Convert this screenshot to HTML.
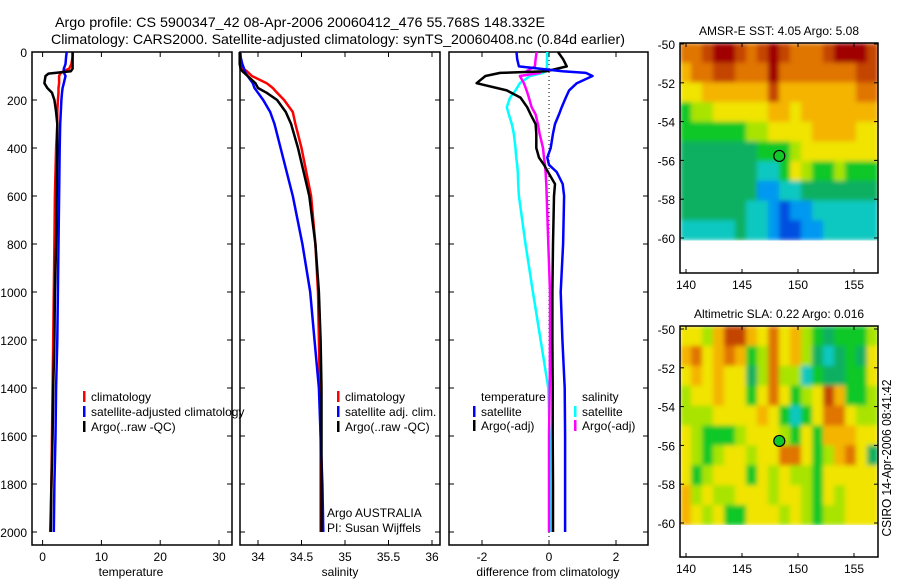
<!DOCTYPE html>
<html><head><meta charset="utf-8"><style>
html,body{margin:0;padding:0;background:#fff;}
svg{display:block;font-family:"Liberation Sans",sans-serif;}
</style></head><body>
<svg id="fig" width="900" height="580" viewBox="0 0 900 580" xmlns="http://www.w3.org/2000/svg">
<defs>
<filter id="smooth" x="0" y="0" width="1" height="1"><feGaussianBlur stdDeviation="2.5" edgeMode="duplicate"/></filter>
<clipPath id="clipSst"><rect x="680" y="43" width="198" height="198"/></clipPath>
<clipPath id="clipSla"><rect x="680" y="326" width="198" height="199"/></clipPath>
</defs>
<text x="55" y="27" font-size="14" textLength="490" lengthAdjust="spacingAndGlyphs">Argo profile: CS 5900347_42 08-Apr-2006 20060412_476 55.768S 148.332E</text>
<text x="51" y="44" font-size="14" textLength="574" lengthAdjust="spacingAndGlyphs">Climatology: CARS2000. Satellite-adjusted climatology: synTS_20060408.nc (0.84d earlier)</text>
<g id="g"></g>
<text transform="translate(891,458) rotate(-90)" text-anchor="middle" font-size="13" textLength="157" lengthAdjust="spacingAndGlyphs">CSIRO 14-Apr-2006 08:41:42</text>
</svg>
<script>
// ---- data ----
const tDepths=[0,20,50,70,80,90,100,130,150,170,200,250,300,400,600,800,1000,1200,1400,1600,1800,2000];
const tempClim=[5.1,5.1,4.9,4.5,3.5,3.0,2.8,2.8,2.7,2.7,2.6,2.5,2.5,2.3,2.1,2.0,1.9,1.8,1.7,1.6,1.5,1.3];
const tempSatClim=[4.1,4.0,3.9,3.6,3.6,3.7,3.9,3.6,3.4,3.3,3.2,3.1,3.0,2.9,2.8,2.7,2.6,2.5,2.3,2.2,2.0,1.9];
const tempArgo=[5.1,5.1,5.1,5.1,4.8,1.0,0.5,0.3,0.8,1.6,2.0,2.3,2.5,2.5,2.4,2.3,2.1,2.0,1.8,1.7,1.5,1.4];
const salClim=[33.80,33.80,33.81,33.83,33.87,33.90,33.93,34.10,34.17,34.22,34.30,34.40,34.43,34.50,34.61,34.66,34.69,34.70,34.71,34.72,34.72,34.72];
const salSatClim=[33.79,33.80,33.82,33.84,33.85,33.86,33.88,33.94,33.96,34.00,34.06,34.14,34.19,34.26,34.40,34.51,34.60,34.65,34.70,34.72,34.74,34.75];
const salArgo=[33.79,33.79,33.79,33.80,33.82,33.85,33.88,33.97,34.00,34.10,34.22,34.32,34.38,34.46,34.59,34.66,34.70,34.72,34.73,34.73,34.73,34.73];
const dDepths=[0,30,60,80,87,100,130,160,190,230,260,300,340,400,440,470,500,550,600,800,1000,1200,1400,1600,1800,2000];
const diffTempSat=[-0.97,-0.95,-0.9,0.4,1.1,1.3,0.83,0.6,0.5,0.38,0.3,0.18,0.12,0.05,-0.05,0.0,0.23,0.41,0.45,0.42,0.35,0.4,0.47,0.48,0.48,0.48];
const diffTempArgo=[0.27,0.42,0.53,-0.07,-1.46,-1.9,-2.16,-1.26,-0.85,-0.65,-0.55,-0.4,-0.38,-0.38,-0.3,-0.15,-0.03,0.18,0.15,0.12,0.1,0.1,0.11,0.11,0.12,0.12];
const diffSalSat=[-0.05,-0.06,-0.06,-0.1,-0.18,-0.57,-0.87,-1.0,-1.16,-1.26,-1.2,-1.11,-1.05,-1.0,-0.98,-0.95,-0.93,-0.92,-0.9,-0.7,-0.48,-0.25,-0.02,0.02,0.04,0.05];
const diffSalArgo=[-0.37,-0.4,-0.42,-0.67,-0.27,-0.87,-0.75,-0.67,-0.6,-0.52,-0.4,-0.33,-0.28,-0.18,-0.15,-0.12,-0.1,-0.08,-0.07,-0.02,0.03,0.03,0.02,0.0,0.0,0.0];
const depthTicks=[0,200,400,600,800,1000,1200,1400,1600,1800,2000];
const tempTicks=[0,10,20,30];
const salTicks=[34,34.5,35,35.5,36];
const salTickLabels=["34","34.5","35","35.5","36"];
const diffTicks=[-2,0,2];
const latTicks=[-50,-52,-54,-56,-58,-60];
const lonTicks=[140,145,150,155];
const argoLon=148.33, argoLat=-55.77;
const sstGrid=[
[8,8,9,10,10,9,8,9,10,9,8,8,8,9,10,10,10,9],
[7,8,8,9,9,8,8,8,10,8,8,8,8,8,8,8,9,9],
[6,6,7,7,7,7,7,7,9,7,7,7,7,7,7,7,8,8],
[4,5,5,6,6,6,6,6,7,7,6,7,7,7,7,7,7,7],
[4,4,4,4,4,4,5,5,6,6,6,6,7,7,7,7,6,6],
[3,3,3,3,3,3,3,4,4,4,5,6,6,6,6,6,6,6],
[3,3,3,3,3,3,3,2,2,4,6,5,4,4,5,4,4,4],
[3,3,3,3,3,3,3,1,1,2,2,3,3,3,3,3,3,3],
[3,3,3,3,3,3,2,2,1,0,1,1,2,2,2,2,2,2],
[2,2,2,2,2,3,2,2,1,0,0,1,1,2,2,2,2,2]];
const slaGrid=[
[6,6,5,7,9,9,7,6,8,6,7,5,4,3,4,4,4,5],
[7,8,6,7,8,7,4,5,8,6,7,5,3,2,3,4,3,6],
[6,7,6,7,6,6,3,5,8,5,5,2,4,3,3,4,4,6],
[5,6,6,7,6,6,4,6,8,6,4,5,6,9,7,4,4,5],
[5,5,5,6,6,6,6,7,6,4,2,4,6,8,8,6,5,5],
[6,5,4,4,4,5,6,6,6,5,4,6,4,7,7,7,6,6],
[6,5,4,5,6,6,5,6,6,8,8,6,4,5,7,8,6,3],
[6,4,5,6,6,6,4,6,5,6,5,5,4,6,6,6,6,6],
[7,5,6,5,5,6,6,6,5,6,6,5,4,6,5,6,6,6],
[7,6,5,6,4,4,6,6,6,5,6,5,4,5,5,6,6,6]];
const cmap=["#0050e0","#0098f0","#10c8c0","#08b060","#10c828","#a8e400","#f0e400","#f4b400","#e07400","#c44400","#a00000"];
// ---- drawing ----
const NS="http://www.w3.org/2000/svg";
const G=document.getElementById('g');
function mk(tag,attrs,parent){const e=document.createElementNS(NS,tag);for(const k in attrs)e.setAttribute(k,attrs[k]);(parent||G).appendChild(e);return e;}
function txt(x,y,s,size,anchor,parent){const e=mk('text',{x:x,y:y,'font-size':size,'text-anchor':anchor||'start'},parent);e.textContent=s;return e;}
const Y0=52, PY=0.24, YB=545;
const yD=d=>Y0+d*PY;
const panels=[
 {name:'temperature',x0:32,x1:232,f:v=>42.6+v*5.88,ticks:tempTicks,labels:tempTicks.map(String)},
 {name:'salinity',x0:240,x1:440,f:v=>258+(v-34)*87,ticks:salTicks,labels:salTickLabels},
 {name:'difference',x0:449,x1:648,f:v=>549+v*33.5,ticks:diffTicks,labels:diffTicks.map(String)}];
panels.forEach((p,i)=>{
 const g=mk('g',{});
 
 
 const r=mk('rect',{x:p.x0,y:Y0,width:p.x1-p.x0,height:YB-Y0,fill:'none',stroke:'#000','stroke-width':1.5},g);
 
 
 depthTicks.forEach(d=>{
  mk('line',{x1:p.x0,x2:p.x0+5,y1:yD(d),y2:yD(d),stroke:'#000'},g);
  mk('line',{x1:p.x1-5,x2:p.x1,y1:yD(d),y2:yD(d),stroke:'#000'},g);
  if(i==0){const t=txt(27,yD(d)+5,String(d),12,'end',g);
   
   }
 });
 p.ticks.forEach((v,k)=>{
  const x=p.f(v);
  mk('line',{x1:x,x2:x,y1:Y0,y2:Y0+5,stroke:'#000'},g);
  mk('line',{x1:x,x2:x,y1:YB-5,y2:YB,stroke:'#000'},g);
  const t=txt(x,561,p.labels[k],12,'middle',g);
  
  
 });
});
function line(depths,vals,f,color,name){
 const pts=depths.map((d,i)=>f(vals[i]).toFixed(1)+','+yD(d).toFixed(1)).join(' ');
 const e=mk('polyline',{points:pts,fill:'none',stroke:color,'stroke-width':2.5,'stroke-linejoin':'round'});
 
 
}
const P=panels;
const z=mk('line',{x1:P[2].f(0),x2:P[2].f(0),y1:Y0,y2:YB,stroke:'#000','stroke-dasharray':'1,3'});


line(tDepths,tempClim,P[0].f,'#ff0000','temp-climatology-line');
line(tDepths,tempSatClim,P[0].f,'#0000ff','temp-satellite-line');
line(tDepths,tempArgo,P[0].f,'#000','temp-argo-line');
line(tDepths,salClim,P[1].f,'#ff0000','sal-climatology-line');
line(tDepths,salSatClim,P[1].f,'#0000ff','sal-satellite-line');
line(tDepths,salArgo,P[1].f,'#000','sal-argo-line');
line(dDepths,diffSalSat,P[2].f,'#00ffff','diff-sal-satellite-line');
line(dDepths,diffSalArgo,P[2].f,'#ff00ff','diff-sal-argo-line');
line(dDepths,diffTempArgo,P[2].f,'#000','diff-temp-argo-line');
line(dDepths,diffTempSat,P[2].f,'#0000ff','diff-temp-satellite-line');
[['temperature',131,'x-axis-title-temperature'],['salinity',340,'x-axis-title-salinity'],['difference from climatology',548,'x-axis-title-difference']].forEach(a=>{
 const t=txt(a[1],576,a[0],12,'middle');
 
 
});
function legend(x,y,color,label,name){
 const g=mk('g',{});
 
 
 if(color) mk('rect',{x:x,y:y-10,width:2.5,height:11,fill:color},g);
 txt(x+8,y,label,12,'start',g);
}
legend(83,401,'#ff0000','climatology','legend-entry-climatology');
legend(83,416,'#0000ff','satellite-adjusted climatology','legend-entry-satellite-adjusted');
legend(83,431,'#000','Argo(..raw -QC)','legend-entry-argo');
legend(337,401,'#ff0000','climatology','legend-entry-sal-climatology');
legend(337,416,'#0000ff','satellite adj. clim.','legend-entry-sal-satellite');
legend(337,431,'#000','Argo(..raw -QC)','legend-entry-sal-argo');
legend(473,401,null,'temperature','legend-header-temperature');
legend(473,416,'#0000ff','satellite','legend-entry-diff-temp-satellite');
legend(473,430,'#000','Argo(-adj)','legend-entry-diff-temp-argo');
legend(574,401,null,'salinity','legend-header-salinity');
legend(574,416,'#00ffff','satellite','legend-entry-diff-sal-satellite');
legend(574,430,'#ff00ff','Argo(-adj)','legend-entry-diff-sal-argo');
let t1=txt(327,517,'Argo AUSTRALIA',12);


let t2=txt(327,532,'PI: Susan Wijffels',12);


const MX0=680,MX1=878;
const lonX=l=>686+(l-140)*11.2;
function drawMap(top,bot,lat50,lat60,grid,title,name,clip){
 const latY=l=>lat50+(-50-l)*(lat60-lat50)/10;
 const g=mk('g',{});
 
 
 const cw=(MX1-MX0)/grid[0].length, y0=top, y1=latY(-60.1);
 const ch=(y1-y0)/grid.length;
 const cg=mk('g',{'clip-path':'url(#'+clip+')'},g);
 const bg=mk('g',{filter:'url(#smooth)'},cg);
 grid.forEach((row,r)=>row.forEach((v,c)=>{
  const cell=mk('rect',{x:(MX0+c*cw).toFixed(2),y:(y0+r*ch).toFixed(2),width:(cw+0.5).toFixed(2),height:(ch+0.5).toFixed(2),fill:cmap[v]},bg);
  
  
 }));
 mk('rect',{x:MX0,y:top,width:MX1-MX0,height:bot-top,fill:'none',stroke:'#000','stroke-width':1.5},g);
 latTicks.forEach(l=>{
  const y=latY(l);
  mk('line',{x1:MX0,x2:MX0+4,y1:y,y2:y,stroke:'#000'},g);
  mk('line',{x1:MX1-4,x2:MX1,y1:y,y2:y,stroke:'#000'},g);
  txt(675,y+5,String(l),12,'end',g);
 });
 lonTicks.forEach(l=>{
  const x=lonX(l);
  mk('line',{x1:x,x2:x,y1:top,y2:top+4,stroke:'#000'},g);
  mk('line',{x1:x,x2:x,y1:bot-4,y2:bot,stroke:'#000'},g);
  txt(x,bot+16,String(l),12,'middle',g);
 });
 const tt=txt((MX0+MX1)/2,top-8,title,12,'middle',g);
 
 
 const m=mk('circle',{cx:lonX(argoLon),cy:latY(argoLat),r:5.5,fill:'#10c828',stroke:'#000','stroke-width':1.2},g);
 
 
}
drawMap(43,273,44,238,sstGrid,'AMSR-E SST: 4.05 Argo: 5.08','sst-map','clipSst');
drawMap(326,557,329,523,slaGrid,'Altimetric SLA: 0.22 Argo: 0.016','sla-map','clipSla');
</script>
</body></html>
